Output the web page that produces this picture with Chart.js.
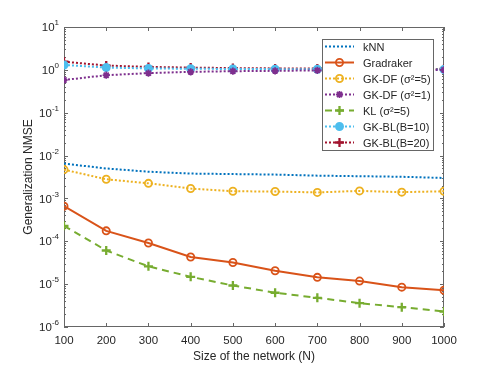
<!DOCTYPE html>
<html>
<head>
<meta charset="utf-8">
<script src="https://cdn.jsdelivr.net/npm/chart.js@4.4.0/dist/chart.umd.min.js"></script>
<style>
  html, body { margin: 0; padding: 0; background: #fff; }
  #wrap { width: 491px; height: 368px; }
</style>
</head>
<body>
<div id="wrap"><canvas id="nmseChart" width="491" height="368"></canvas></div>
<script>
// network sizes
const sizes = [100, 200, 300, 400, 500, 600, 700, 800, 900, 1000];

// generalization NMSE per method
const knn       = [6.5e-3, 5.0e-3, 4.2e-3, 3.8e-3, 3.7e-3, 3.6e-3, 3.4e-3, 3.3e-3, 3.2e-3, 3.0e-3];
const gradraker = [6.6e-4, 1.75e-4, 9.1e-5, 4.3e-5, 3.2e-5, 2.05e-5, 1.44e-5, 1.18e-5, 8.5e-6, 7.2e-6];
const gkdf5     = [4.7e-3, 2.8e-3, 2.25e-3, 1.7e-3, 1.47e-3, 1.45e-3, 1.38e-3, 1.5e-3, 1.4e-3, 1.47e-3];
const gkdf1     = [0.58, 0.75, 0.84, 0.90, 0.93, 0.95, 0.97, 0.98, 0.99, 1.0];
const kl5       = [2.3e-4, 6.1e-5, 2.6e-5, 1.48e-5, 9.3e-6, 6.3e-6, 4.8e-6, 3.6e-6, 2.9e-6, 2.3e-6];
const gkbl10    = [1.30, 1.13, 1.08, 1.06, 1.05, 1.04, 1.03, 1.03, 1.02, 1.02];
const gkbl20    = [1.55, 1.26, 1.17, 1.13, 1.10, 1.08, 1.07, 1.06, 1.05, 1.05];

const seriesLabels = ['kNN', 'Gradraker', 'GK-DF (σ²=5)', 'GK-DF (σ²=1)', 'KL (σ²=5)', 'GK-BL(B=10)', 'GK-BL(B=20)'];
const yDecades = [-6, -5, -4, -3, -2, -1, 0, 1];

const FONT = 'Liberation Sans, Arial, Helvetica, sans-serif';

function pts(vals) {
    return sizes.map((s, i) => ({ x: s, y: vals[i] }));
}

function ds(label, vals, color, opts) {
    return Object.assign({
        label: label,
        data: pts(vals),
        borderColor: color,
        backgroundColor: color,
        pointBorderColor: color,
        pointBackgroundColor: 'rgba(0,0,0,0)',
        borderWidth: 2,
        pointBorderWidth: 1.8,
        pointRadius: 3.6,
        tension: 0
    }, opts);
}

const datasets = [
    ds(seriesLabels[0], knn, '#0072BD', { borderDash: [2, 2], pointRadius: 0 }),
    ds(seriesLabels[1], gradraker, '#D95319', { pointStyle: 'circle' }),
    ds(seriesLabels[2], gkdf5, '#EDB120', { borderDash: [2, 2], pointStyle: 'circle' }),
    ds(seriesLabels[3], gkdf1, '#7E2F8E', { borderDash: [2, 2], pointStyle: 'star', pointRadius: 3.6 }),
    ds(seriesLabels[4], kl5, '#77AC30', { borderDash: [7, 5], pointStyle: 'cross', pointRadius: 4.5, pointBorderWidth: 2.3 }),
    ds(seriesLabels[5], gkbl10, '#4DBEEE', { borderDash: [2, 2], pointStyle: 'circle', pointRadius: 3.6, pointBackgroundColor: '#4DBEEE' }),
    ds(seriesLabels[6], gkbl20, '#A2142F', { borderDash: [2, 2], pointStyle: 'cross', pointRadius: 4.5, pointBorderWidth: 2.3 })
];

// box, inward ticks and 10^n labels in matlab style
const axesBox = {
    id: 'axesBox',
    beforeDatasetsDraw(chart) {
        const { ctx, chartArea: a, scales } = chart;
        const xs = scales.x, ys = scales.y;
        ctx.save();
        ctx.strokeStyle = '#666';
        ctx.lineWidth = 1;
        ctx.strokeRect(a.left + 0.5, a.top + 0.5, a.right - a.left - 1, a.bottom - a.top - 1);
        ctx.beginPath();
        sizes.forEach(s => {
            const px = Math.round(xs.getPixelForValue(s)) + 0.5;
            ctx.moveTo(px, a.bottom); ctx.lineTo(px, a.bottom - 4);
            ctx.moveTo(px, a.top); ctx.lineTo(px, a.top + 4);
        });
        yDecades.forEach(n => {
            for (let m = 1; m <= 9; m++) {
                const v = m * Math.pow(10, n);
                if (v > 10) break;
                const py = Math.round(ys.getPixelForValue(v)) + 0.5;
                const len = m === 1 ? 4 : 2;
                ctx.moveTo(a.left, py); ctx.lineTo(a.left + len, py);
                ctx.moveTo(a.right, py); ctx.lineTo(a.right - len, py);
            }
        });
        ctx.stroke();
        ctx.restore();
    },
    afterDraw(chart) {
        const { ctx, chartArea: a, scales } = chart;
        const ys = scales.y;
        ctx.save();
        ctx.fillStyle = '#262626';
        ctx.textBaseline = 'middle';
        yDecades.forEach(n => {
            const py = ys.getPixelForValue(Math.pow(10, n));
            const sup = String(n);
            ctx.font = '8px ' + FONT;
            const sw = ctx.measureText(sup).width;
            ctx.textAlign = 'left';
            const right = a.left - 5;
            ctx.fillText(sup, right - sw, py - 4);
            ctx.font = '11.5px ' + FONT;
            ctx.textAlign = 'right';
            ctx.fillText('10', right - sw, py + 1);
        });
        ctx.restore();
    }
};

// legend box inside the plot, north east
const insideLegend = {
    id: 'insideLegend',
    afterDraw(chart) {
        const { ctx } = chart;
        const bx = 322, by = 39, bw = 111, bh = 111, row = 16;
        ctx.save();
        ctx.fillStyle = '#fff';
        ctx.fillRect(bx, by, bw, bh);
        ctx.strokeStyle = '#666';
        ctx.lineWidth = 1;
        ctx.strokeRect(bx + 0.5, by + 0.5, bw, bh);
        chart.data.datasets.forEach((d, i) => {
            const cy = by + 7.5 + i * row;
            ctx.strokeStyle = d.borderColor;
            ctx.lineWidth = d.borderWidth;
            ctx.setLineDash(d.borderDash || []);
            ctx.beginPath();
            ctx.moveTo(bx + 3, cy); ctx.lineTo(bx + 32, cy);
            ctx.stroke();
            ctx.setLineDash([]);
            if (d.pointRadius > 0) {
                ctx.strokeStyle = d.pointBorderColor;
                ctx.fillStyle = d.pointBackgroundColor;
                ctx.lineWidth = d.pointBorderWidth;
                Chart.helpers.drawPoint(ctx, {
                    pointStyle: d.pointStyle, radius: d.pointRadius, rotation: 0, borderWidth: d.pointBorderWidth
                }, bx + 17.5, cy);
            }
            ctx.fillStyle = '#262626';
            ctx.font = '11px ' + FONT;
            ctx.textAlign = 'left';
            ctx.textBaseline = 'middle';
            ctx.fillText(d.label, bx + 41, cy + 1);
        });
        ctx.restore();
    }
};

new Chart(document.getElementById('nmseChart').getContext('2d'), {
    type: 'line',
    data: { datasets: datasets },
    plugins: [axesBox, insideLegend],
    options: {
        responsive: false,
        animation: false,
        layout: { padding: { top: 27, right: 47, left: 0, bottom: 0 } },
        plugins: { legend: { display: false }, tooltip: { enabled: false } },
        scales: {
            x: {
                type: 'linear',
                min: 100,
                max: 1000,
                afterBuildTicks(scale) { scale.ticks = sizes.map(v => ({ value: v })); },
                afterFit(scale) { scale.height = 41; },
                grid: { display: false, drawTicks: false },
                border: { display: false },
                ticks: {
                    padding: 7, color: '#262626', font: { family: FONT, size: 11.5 }, maxRotation: 0,
                    callback: v => String(v)
                },
                title: { display: true, text: 'Size of the network (N)', color: '#262626', font: { family: FONT, size: 12 }, padding: { top: 4, bottom: 4 } }
            },
            y: {
                type: 'logarithmic',
                min: 1e-6,
                max: 10,
                afterFit(scale) { scale.width = 64; },
                grid: { display: false, drawTicks: false },
                border: { display: false },
                ticks: { display: false },
                title: { display: true, text: 'Generalization NMSE', color: '#262626', font: { family: FONT, size: 12 }, padding: { top: 21, bottom: 0 } }
            }
        }
    }
});
</script>
</body>
</html>
